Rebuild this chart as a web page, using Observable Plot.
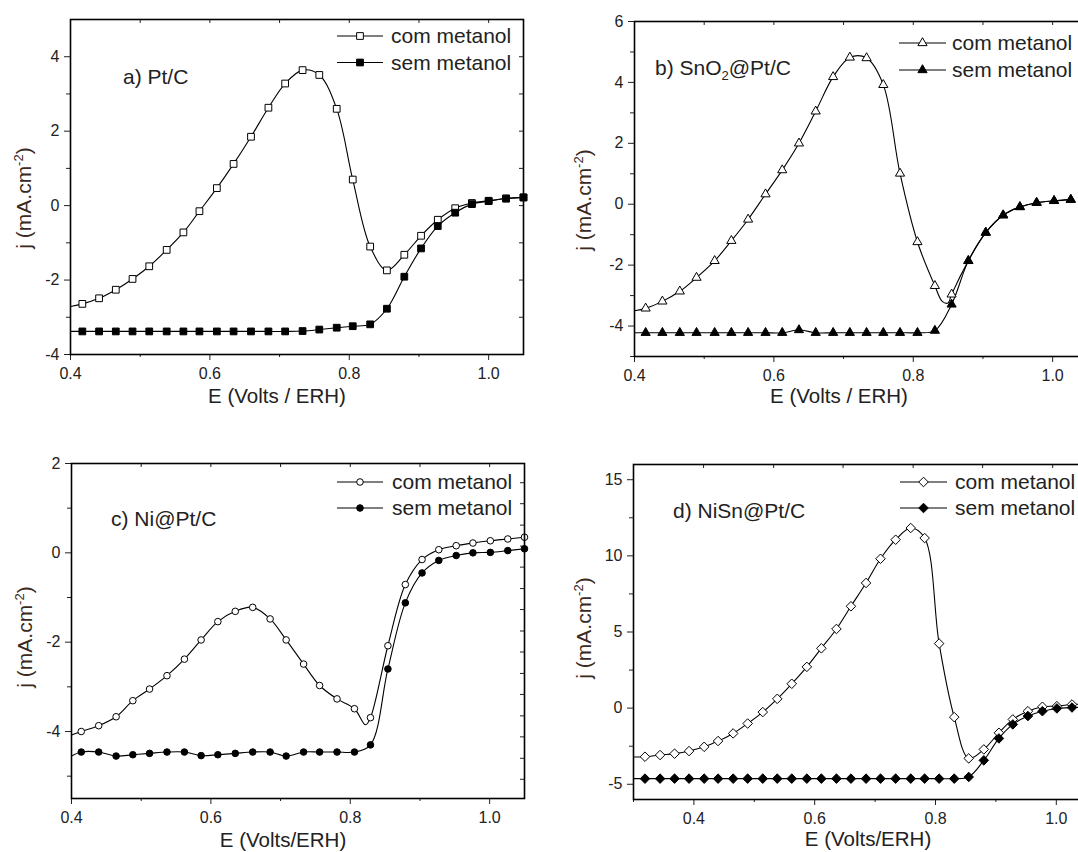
<!DOCTYPE html>
<html><head><meta charset="utf-8">
<script src="https://cdn.jsdelivr.net/npm/d3@7"></script>
<script src="https://cdn.jsdelivr.net/npm/@observablehq/plot@0.6"></script>
<style>
html,body{margin:0;padding:0;background:#fff;overflow:hidden}
#wrap{position:relative;width:1078px;height:852px;overflow:hidden;background:#fff}
#wrap svg{position:absolute;overflow:visible}
</style></head><body><div id="wrap"></div>
<script>
// ---------- data ----------
// a) Pt/C
const aX   = [0.417,0.441,0.465,0.489,0.513,0.538,0.562,0.585,0.610,0.634,0.659,0.684,0.708,0.733,0.757,0.782,0.805,0.830,0.854,0.879,0.903,0.927,0.952,0.976,1.000,1.025,1.050];
const aCom = [-2.64,-2.49,-2.26,-1.97,-1.63,-1.19,-0.72,-0.15,0.47,1.12,1.85,2.63,3.28,3.64,3.51,2.60,0.70,-1.10,-1.74,-1.32,-0.81,-0.38,-0.07,0.07,0.13,0.19,0.22];
const aSem = [-3.38,-3.38,-3.38,-3.38,-3.38,-3.38,-3.38,-3.38,-3.38,-3.38,-3.38,-3.38,-3.38,-3.37,-3.33,-3.28,-3.24,-3.19,-2.77,-1.91,-1.15,-0.55,-0.19,0.04,0.12,0.19,0.22];
const aComExtra = [[0.400,-2.71]];
const aSemExtra = [[0.400,-3.38]];
// b) SnO2@Pt/C
const bX   = [0.416,0.440,0.465,0.489,0.515,0.539,0.563,0.588,0.612,0.636,0.660,0.685,0.709,0.733,0.757,0.781,0.806,0.831,0.855,0.879,0.904,0.929,0.953,0.977,1.002,1.026];
const bCom = [-3.42,-3.19,-2.86,-2.41,-1.86,-1.20,-0.50,0.33,1.12,2.00,3.05,4.18,4.82,4.80,3.92,1.01,-1.24,-2.68,-2.96,-1.86,-0.93,-0.36,-0.09,0.05,0.11,0.15];
const bSem = [-4.22,-4.22,-4.22,-4.22,-4.22,-4.22,-4.22,-4.22,-4.22,-4.13,-4.22,-4.22,-4.22,-4.22,-4.22,-4.22,-4.22,-4.15,-3.29,-1.86,-0.93,-0.36,-0.09,0.05,0.11,0.15];
const bComExtra = [[0.400,-3.50],[0.842,-3.20],[0.850,-3.24]];
const bSemExtra = [[0.400,-4.22]];
// c) Ni@Pt/C
const cX   = [0.414,0.439,0.464,0.488,0.512,0.537,0.562,0.586,0.610,0.635,0.660,0.685,0.708,0.733,0.756,0.781,0.806,0.829,0.854,0.879,0.903,0.927,0.952,0.976,1.001,1.026,1.050];
const cCom = [-4.00,-3.87,-3.67,-3.31,-3.05,-2.75,-2.38,-1.95,-1.54,-1.31,-1.22,-1.48,-1.95,-2.49,-2.97,-3.27,-3.49,-3.69,-2.08,-0.71,-0.15,0.07,0.16,0.22,0.27,0.31,0.35];
const cSem = [-4.46,-4.46,-4.55,-4.52,-4.49,-4.46,-4.46,-4.54,-4.52,-4.49,-4.46,-4.46,-4.55,-4.46,-4.46,-4.46,-4.46,-4.30,-2.60,-1.12,-0.45,-0.17,-0.06,0.00,0.01,0.05,0.09];
const cComExtra = [[0.400,-4.08],[0.822,-3.85]];
const cSemExtra = [[0.400,-4.55]];
// d) NiSn@Pt/C
const dX   = [0.319,0.344,0.368,0.392,0.417,0.440,0.465,0.489,0.514,0.538,0.562,0.587,0.611,0.636,0.660,0.685,0.709,0.734,0.759,0.782,0.806,0.831,0.855,0.880,0.905,0.928,0.953,0.977,1.001,1.026];
const dCom = [-3.19,-3.08,-2.99,-2.82,-2.54,-2.16,-1.66,-1.01,-0.26,0.61,1.60,2.71,3.93,5.20,6.69,8.22,9.81,11.06,11.83,11.17,4.24,-0.59,-3.30,-2.71,-1.62,-0.74,-0.20,0.09,0.13,0.24];
const dSem = [-4.63,-4.63,-4.63,-4.63,-4.63,-4.63,-4.63,-4.63,-4.63,-4.63,-4.63,-4.63,-4.63,-4.63,-4.63,-4.63,-4.63,-4.63,-4.63,-4.63,-4.63,-4.63,-4.52,-3.43,-1.99,-1.07,-0.52,-0.20,-0.02,0.04];
const dComExtra = [[0.300,-3.21],[1.040,0.25]];
const dSemExtra = [[0.300,-4.63],[1.040,0.05]];

// ticks
const xMajor = [0.4,0.6,0.8,1.0];
const xMinorAB = [0.5,0.7,0.9];
const xMinorD = [0.3,0.5,0.7,0.9];
const xTopStd = [0.5,0.6,0.7,0.8,0.9,1.0];
const xTopD = [0.416,0.532,0.647,0.763,0.878,0.994];
const aYTicks = [-4,-2,0,2,4], aYMinor = [-3,-1,1,3], aYRight = [-3,-2,-1,0,1,2,3,4];
const bYTicks = [-4,-2,0,2,4,6], bYMinor = [-5,-3,-1,1,3,5];
const cYTicks = [-4,-2,0,2], cYMinor = [-5,-3,-1,1], cYRight = [1.57,1.10,0.62,0.15,-0.32,-0.80,-1.27,-1.75,-2.22,-2.70,-3.17,-3.65,-4.12,-4.60,-5.07];
const dYTicks = [-5,0,5,10,15], dYMinor = [-2.5,2.5,7.5,12.5];

// texts
const legendCom = "com metanol", legendSem = "sem metanol";
const xLabelAB = "E (Volts / ERH)", xLabelCD = "E (Volts/ERH)";

// ---------- drawing ----------
const FONT = "'Liberation Sans', Arial, Helvetica, sans-serif";
const W = 453, H = 335, mL = 72, mT = 20, mR = 10, mB = 66;
const symMap = {square: d3.symbolSquare, triangle: d3.symbolTriangle, circle: d3.symbolCircle, diamond2: d3.symbolDiamond2};

const panels = [
  {left:70, top:19, xDomain:[0.4,1.05], yDomain:[-4,5], xMinor:xMinorAB, xTop:xTopStd, yTicks:aYTicks, yMinor:aYMinor, yRight:aYRight,
   x:aX, com:aCom, sem:aSem, comExtra:aComExtra, semExtra:aSemExtra, symbol:"square", r:3.8,
   label:[["a) Pt/C"]], labelPos:[53,65], leg:{x1:267,x2:313,tx:321,y1:17,y2:43.5}, xLabel:xLabelAB, xLabelPos:[207,384], yLabelPos:[-39,179]},
  {left:634, top:21, xDomain:[0.4,1.05], yDomain:[-5,6], xMinor:xMinorAB, xTop:xTopStd, yTicks:bYTicks, yMinor:bYMinor, yRight:[],
   x:bX, com:bCom, sem:bSem, comExtra:bComExtra, semExtra:bSemExtra, symbol:"triangle", r:3.4,
   label:[["b) SnO"],["2","sub"],["@Pt/C"]], labelPos:[21,54], leg:{x1:265,x2:312,tx:318,y1:22,y2:49}, xLabel:xLabelAB, xLabelPos:[205,382], yLabelPos:[-43,179]},
  {left:71, top:463, xDomain:[0.4,1.05], yDomain:[-5.5,2], xMinor:xMinorAB, xTop:xTopStd, yTicks:cYTicks, yMinor:cYMinor, yRight:cYRight,
   x:cX, com:cCom, sem:cSem, comExtra:cComExtra, semExtra:cSemExtra, symbol:"circle", r:3.3,
   label:[["c) Ni@Pt/C"]], labelPos:[40,63], leg:{x1:266,x2:312,tx:321,y1:19,y2:45}, xLabel:xLabelCD, xLabelPos:[212,384], yLabelPos:[-39,174]},
  {left:633, top:464, xDomain:[0.3,1.05], yDomain:[-6,16], xMinor:xMinorD, xTop:xTopD, yTicks:dYTicks, yMinor:dYMinor, yRight:[],
   x:dX, com:dCom, sem:dSem, comExtra:dComExtra, semExtra:dSemExtra, symbol:"diamond2", r:4.3,
   label:[["d) NiSn@Pt/C"]], labelPos:[40,54], leg:{x1:267,x2:314,tx:322,y1:18,y2:44}, xLabel:xLabelCD, xLabelPos:[235,382], yLabelPos:[-42,164]}
];

const wrap = document.getElementById("wrap");

for (const p of panels) {
  const com = p.x.map((x,i)=>({x, y:p.com[i]}));
  const sem = p.x.map((x,i)=>({x, y:p.sem[i]}));
  const comLine = [...com, ...p.comExtra.map(([x,y])=>({x,y}))].sort((a,b)=>a.x-b.x);
  const semLine = [...sem, ...p.semExtra.map(([x,y])=>({x,y}))].sort((a,b)=>a.x-b.x);
  const area = Math.PI*p.r*p.r;

  const overlay = (index, scales, values, dims) => {
    const X0 = dims.marginLeft, Y0 = dims.marginTop;
    const g = d3.create("svg:g").attr("font-family", FONT).attr("fill", "#222").attr("text-anchor", "start");
    // panel label
    const t = g.append("text").attr("x", X0+p.labelPos[0]).attr("y", Y0+p.labelPos[1]).attr("font-size", 21).attr("text-anchor", "start");
    p.label.forEach(([s, kind], i) => {
      if (kind === "sub") t.append("tspan").attr("font-size", 13).attr("dy", 5).text(s);
      else t.append("tspan").attr("dy", i ? -5 : 0).text(s);
    });
    // legend
    const L = p.leg;
    [[L.y1, "white", legendCom], [L.y2, "black", legendSem]].forEach(([yy, fill, txt]) => {
      g.append("line").attr("x1", X0+L.x1).attr("x2", X0+L.x2).attr("y1", Y0+yy).attr("y2", Y0+yy)
        .attr("stroke", "#000").attr("stroke-width", 1.2);
      g.append("path").attr("d", d3.symbol(symMap[p.symbol], area)())
        .attr("transform", `translate(${X0+(L.x1+L.x2)/2},${Y0+yy})`)
        .attr("fill", fill).attr("stroke", "#000").attr("stroke-width", 1);
      g.append("text").attr("x", X0+L.tx).attr("y", Y0+yy+7).attr("font-size", 21).attr("text-anchor", "start").text(txt);
    });
    // x label
    g.append("text").attr("x", X0+p.xLabelPos[0]).attr("y", Y0+p.xLabelPos[1]).attr("text-anchor", "middle")
      .attr("font-size", 20.5).text(p.xLabel);
    // y label
    const yl = g.append("text").attr("text-anchor", "middle").attr("font-size", 21).attr("fill", "#3a2a22")
      .attr("transform", `translate(${X0+p.yLabelPos[0]},${Y0+p.yLabelPos[1]}) rotate(-90)`);
    yl.append("tspan").text("j (mA.cm");
    yl.append("tspan").attr("font-size", 13).attr("dy", -8).text("-2");
    yl.append("tspan").attr("dy", 8).text(")");
    return g.node();
  };

  const svg = Plot.plot({
    width: mL+W+mR, height: mT+H+mB,
    marginLeft: mL, marginTop: mT, marginRight: mR, marginBottom: mB,
    x: {domain: p.xDomain}, y: {domain: p.yDomain},
    style: {fontFamily: FONT, fontSize: "16px", color: "#222", background: "transparent", overflow: "visible"},
    marks: [
      Plot.axisX({anchor:"bottom", ticks:xMajor, tickSize:6, tickPadding:7, tickFormat:d3.format(".1f"), label:null, fontSize:16, fill:"#222"}),
      Plot.axisX({anchor:"bottom", ticks:p.xMinor, tickSize:3, tickFormat:()=>"", label:null}),
      Plot.axisX({anchor:"bottom", frameAnchor:"top", ticks:p.xTop, tickSize:4, tickFormat:()=>"", label:null}),
      Plot.axisY({anchor:"left", ticks:p.yTicks, tickSize:6, tickPadding:5, tickFormat:d=>String(d), label:null, fontSize:16, fill:"#222"}),
      Plot.axisY({anchor:"left", ticks:p.yMinor, tickSize:4, tickFormat:()=>"", label:null}),
      p.yRight.length ? Plot.axisY({anchor:"left", frameAnchor:"right", ticks:p.yRight, tickSize:4, tickFormat:()=>"", label:null}) : null,
      Plot.line(comLine, {x:"x", y:"y", curve:"catmull-rom", stroke:"#000", strokeWidth:1.1}),
      Plot.line(semLine, {x:"x", y:"y", curve:"catmull-rom", stroke:"#000", strokeWidth:1.1}),
      Plot.dot(com, {x:"x", y:"y", symbol:p.symbol, r:p.r, fill:"white", stroke:"#000", strokeWidth:1}),
      Plot.dot(sem, {x:"x", y:"y", symbol:p.symbol, r:p.r, fill:"#000", stroke:"#000", strokeWidth:1}),
      Plot.frame({stroke:"#000", strokeWidth:1.6}),
      overlay
    ]
  });
  svg.style.left = (p.left - mL) + "px";
  svg.style.top = (p.top - mT) + "px";
  wrap.appendChild(svg);
}
</script>
</body></html>
